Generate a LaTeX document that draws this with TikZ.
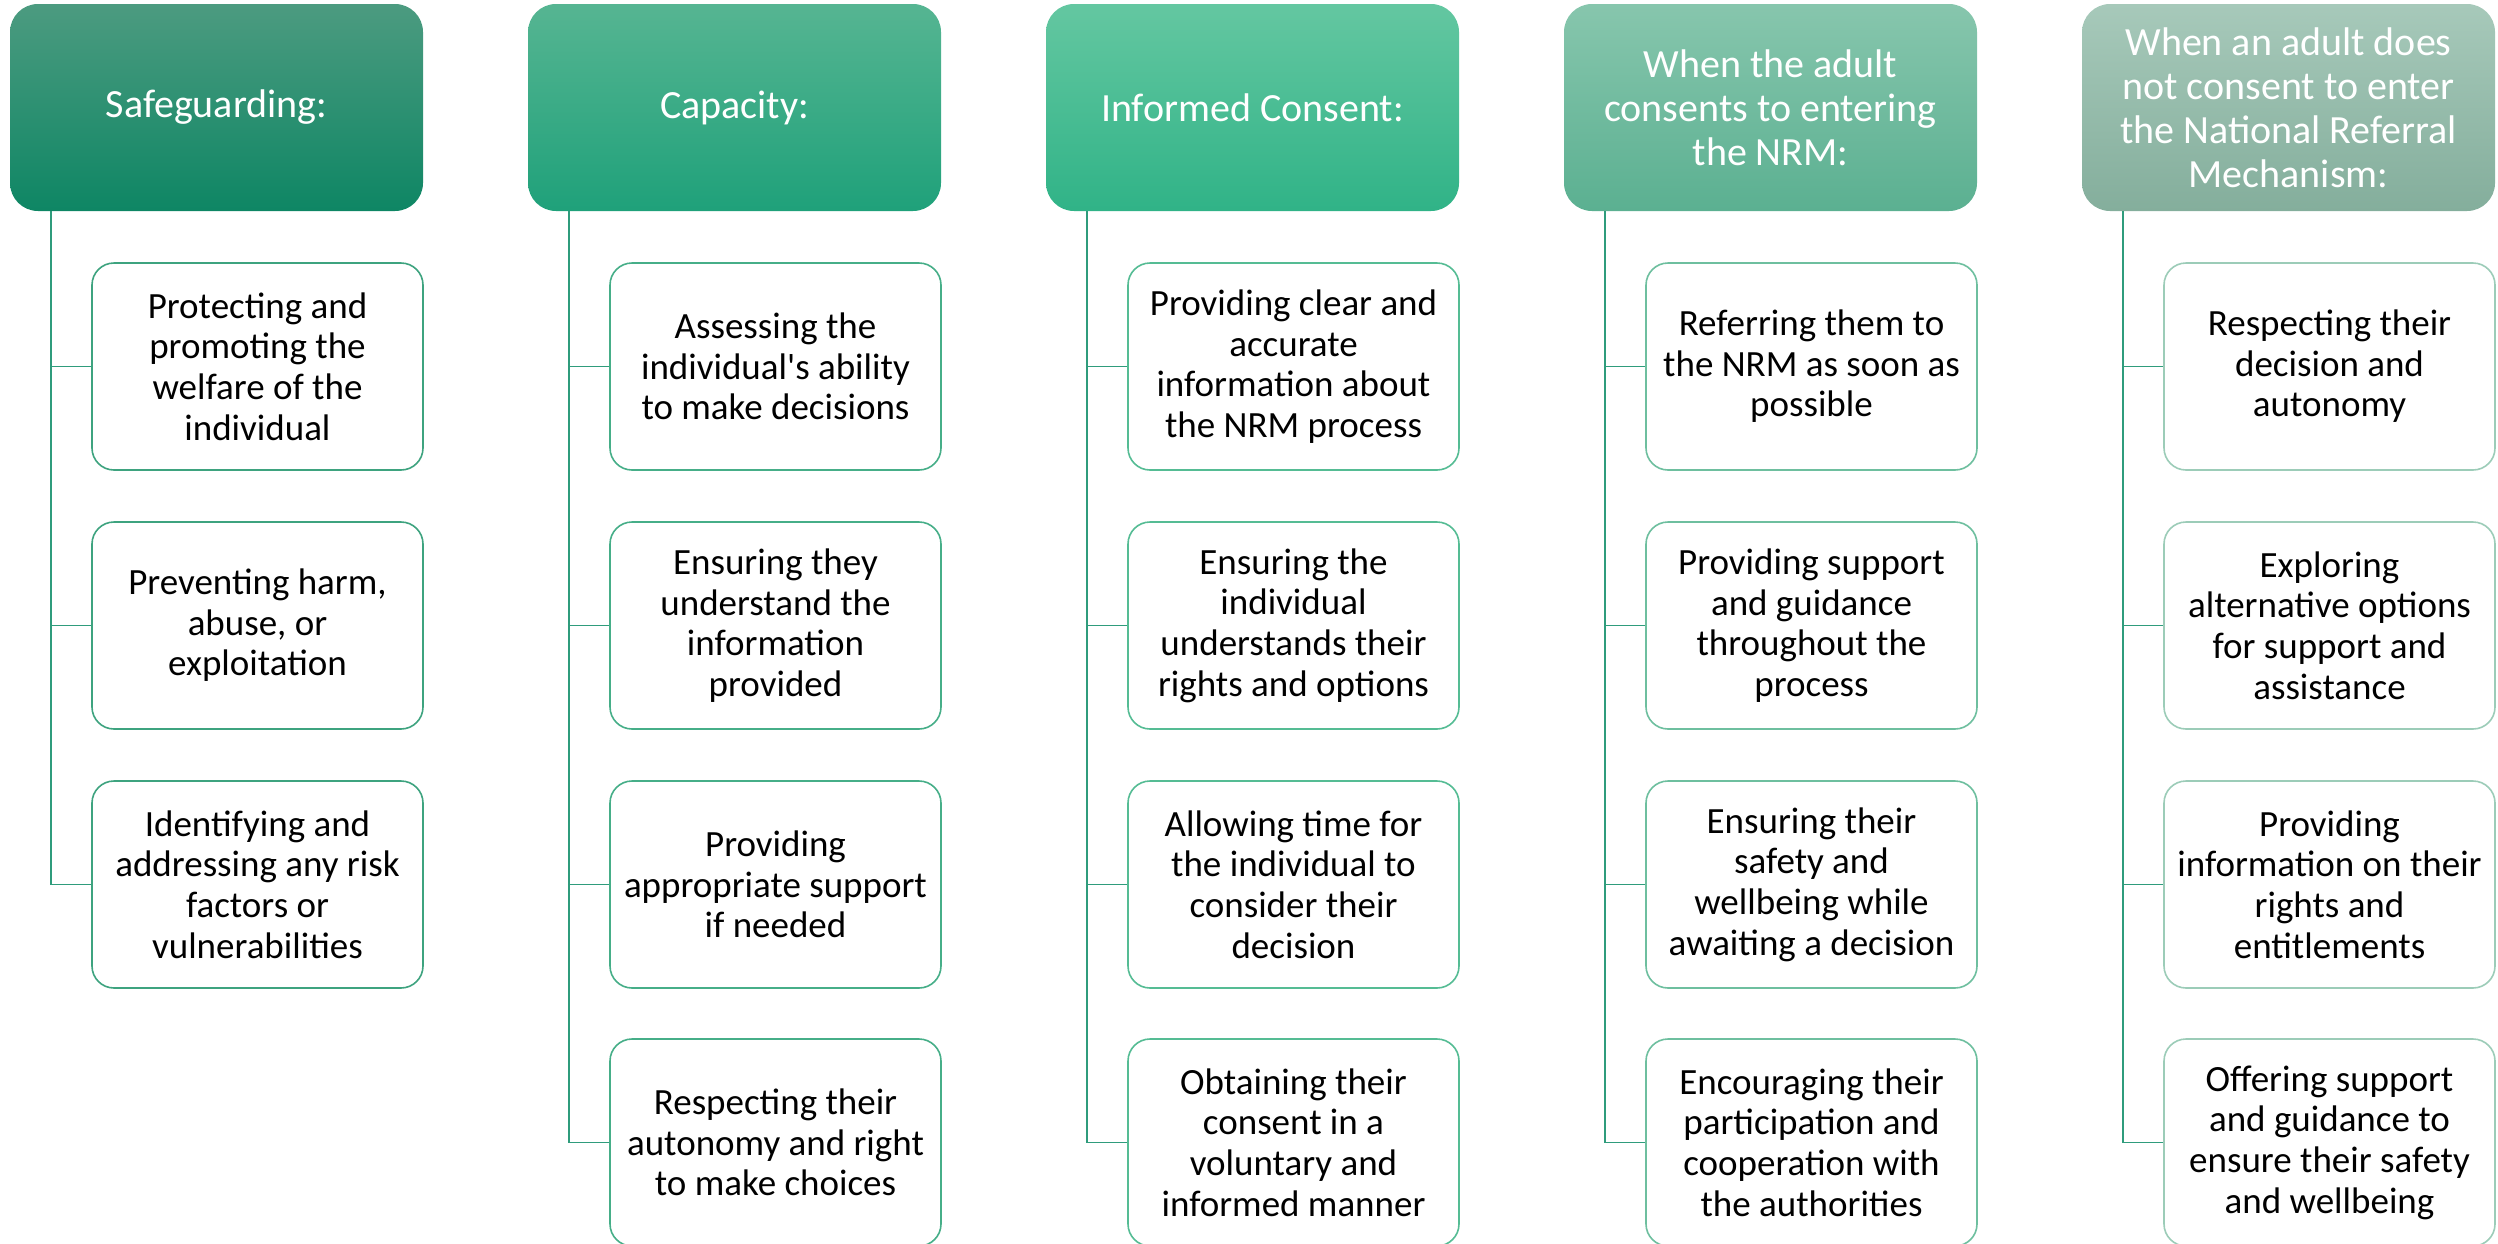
\documentclass[tikz,border=0pt]{standalone}
\usepackage{fontspec}
\setmainfont{Carlito}

\definecolor{topA}{HTML}{4C9B80}
\definecolor{botA}{HTML}{0E8664}
\definecolor{topB}{HTML}{56B592}
\definecolor{botB}{HTML}{1FA17A}
\definecolor{topC}{HTML}{64C7A1}
\definecolor{botC}{HTML}{30B387}
\definecolor{topD}{HTML}{87C6AD}
\definecolor{botD}{HTML}{5BB091}
\definecolor{topE}{HTML}{A7C9BA}
\definecolor{botE}{HTML}{84AE9C}
\definecolor{edgeA}{HTML}{3EA37F}
\definecolor{edgeB}{HTML}{46AE88}
\definecolor{edgeC}{HTML}{55BC94}
\definecolor{edgeD}{HTML}{6EBF9F}
\definecolor{edgeE}{HTML}{9CCCB8}
\definecolor{trunk}{HTML}{2F9C7C}

\begin{document}
\begin{tikzpicture}[x=1pt, y=-1pt,
    head/.style={rounded corners=28pt, minimum width=413pt, minimum height=207pt, inner sep=0pt, text=white, align=center, font=\fontsize{40}{44}\selectfont},
    leaf/.style={draw=#1, line width=1.6pt, rounded corners=22pt, fill=white, minimum width=331pt, minimum height=207pt, inner sep=0pt, align=center, font=\fontsize{37}{40.6}\selectfont},
    link/.style={draw=trunk, line width=1.6pt},
    ]
    \useasboundingbox (0,0) rectangle (2498,1243);

    %Headers
    \node[head, top color=topA, bottom color=botA] at (216.5, 107.5) (h1) {Safeguarding:};
    \node[head, top color=topB, bottom color=botB] at (734.5, 107.5) (h2) {Capacity:};
    \node[head, top color=topC, bottom color=botC] at (1252.5, 107.5) (h3) {Informed Consent:};
    \node[head, top color=topD, bottom color=botD] at (1770.5, 107.5) (h4) {When the adult\\consents to entering\\the NRM:};
    \node[head, top color=topE, bottom color=botE] at (2288.5, 107.5) (h5) {When an adult does\\not consent to enter\\the National Referral\\Mechanism:};

    %Safeguarding
    \node[leaf=edgeA] at (257.5, 366.5) (a1) {Protecting and\\promoting the\\welfare of the\\individual};
    \node[leaf=edgeA] at (257.5, 625.5) (a2) {Preventing harm,\\abuse, or\\exploitation};
    \node[leaf=edgeA] at (257.5, 884.5) (a3) {Identifying and\\addressing any risk\\factors or\\vulnerabilities};

    %Capacity
    \node[leaf=edgeB] at (775.5, 366.5) (b1) {Assessing the\\individual\textquotesingle s ability\\to make decisions};
    \node[leaf=edgeB] at (775.5, 625.5) (b2) {Ensuring they\\understand the\\information\\provided};
    \node[leaf=edgeB] at (775.5, 884.5) (b3) {Providing\\appropriate support\\if needed};
    \node[leaf=edgeB] at (775.5, 1142.5) (b4) {Respecting their\\autonomy and right\\to make choices};

    %Informed consent
    \node[leaf=edgeC] at (1293.5, 366.5) (c1) {Providing clear and\\accurate\\information about\\the NRM process};
    \node[leaf=edgeC] at (1293.5, 625.5) (c2) {Ensuring the\\individual\\understands their\\rights and options};
    \node[leaf=edgeC] at (1293.5, 884.5) (c3) {Allowing time for\\the individual to\\consider their\\decision};
    \node[leaf=edgeC] at (1293.5, 1142.5) (c4) {Obtaining their\\consent in a\\voluntary and\\informed manner};

    %Adult consents
    \node[leaf=edgeD] at (1811.5, 366.5) (d1) {Referring them to\\the NRM as soon as\\possible};
    \node[leaf=edgeD] at (1811.5, 625.5) (d2) {Providing support\\and guidance\\throughout the\\process};
    \node[leaf=edgeD] at (1811.5, 884.5) (d3) {Ensuring their\\safety and\\wellbeing while\\awaiting a decision};
    \node[leaf=edgeD] at (1811.5, 1142.5) (d4) {Encouraging their\\participation and\\cooperation with\\the authorities};

    %Adult does not consent
    \node[leaf=edgeE] at (2329.5, 366.5) (e1) {Respecting their\\decision and\\autonomy};
    \node[leaf=edgeE] at (2329.5, 625.5) (e2) {Exploring\\alternative options\\for support and\\assistance};
    \node[leaf=edgeE] at (2329.5, 884.5) (e3) {Providing\\information on their\\rights and\\entitlements};
    \node[leaf=edgeE] at (2329.5, 1142.5) (e4) {Offering support\\and guidance to\\ensure their safety\\and wellbeing};

    %Trunk tops
    \coordinate (t1) at (51, 211);
    \coordinate (t2) at (569, 211);
    \coordinate (t3) at (1087, 211);
    \coordinate (t4) at (1605, 211);
    \coordinate (t5) at (2123, 211);

    %Lines
    \draw[link] (t1) |- (a1.west);
    \draw[link] (t1) |- (a2.west);
    \draw[link] (t1) |- (a3.west);
    \draw[link] (t2) |- (b1.west);
    \draw[link] (t2) |- (b2.west);
    \draw[link] (t2) |- (b3.west);
    \draw[link] (t2) |- (b4.west);
    \draw[link] (t3) |- (c1.west);
    \draw[link] (t3) |- (c2.west);
    \draw[link] (t3) |- (c3.west);
    \draw[link] (t3) |- (c4.west);
    \draw[link] (t4) |- (d1.west);
    \draw[link] (t4) |- (d2.west);
    \draw[link] (t4) |- (d3.west);
    \draw[link] (t4) |- (d4.west);
    \draw[link] (t5) |- (e1.west);
    \draw[link] (t5) |- (e2.west);
    \draw[link] (t5) |- (e3.west);
    \draw[link] (t5) |- (e4.west);
\end{tikzpicture}
\end{document}
